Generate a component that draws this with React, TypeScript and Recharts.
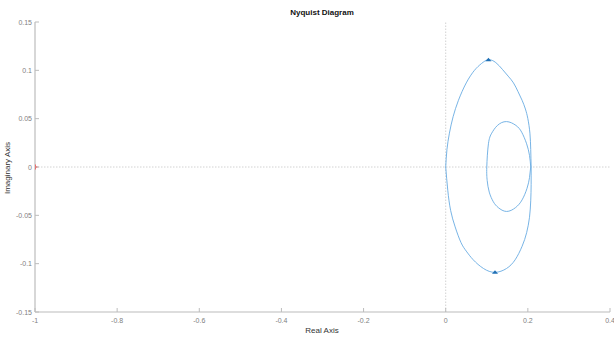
import React from 'react';
import { ComposedChart, Line, Scatter, XAxis, YAxis, ReferenceLine } from 'recharts';

// Upper half of the outer loop (real, imaginary): origin -> top -> right crossing
const upperRe = [0.0, 0.003, 0.009, 0.018, 0.031, 0.05, 0.07, 0.087, 0.104, 0.122, 0.138, 0.152, 0.165, 0.176, 0.186, 0.194, 0.2, 0.205, 0.207, 0.208];
const upperIm = [0.0, 0.018, 0.035, 0.052, 0.069, 0.087, 0.1, 0.107, 0.111, 0.108, 0.101, 0.094, 0.087, 0.078, 0.069, 0.06, 0.05, 0.035, 0.018, 0.0];

// Lower half of the outer loop: right crossing -> bottom -> origin
const lowerRe = [0.208, 0.208, 0.207, 0.204, 0.197, 0.186, 0.169, 0.148, 0.12, 0.092, 0.067, 0.05, 0.037, 0.023, 0.012, 0.005, 0.0];
const lowerIm = [0.0, -0.018, -0.035, -0.052, -0.068, -0.082, -0.096, -0.105, -0.109, -0.105, -0.096, -0.087, -0.078, -0.062, -0.045, -0.024, 0.0];

// Inner loop, traced from its right-hand crossing of the real axis
const innerRe = [0.207, 0.204, 0.197, 0.185, 0.171, 0.148, 0.126, 0.112, 0.104, 0.1, 0.101, 0.106, 0.116, 0.128, 0.148, 0.17, 0.186, 0.198, 0.204, 0.207];
const innerIm = [0.0, 0.012, 0.024, 0.036, 0.043, 0.047, 0.043, 0.035, 0.024, 0.0, -0.014, -0.026, -0.036, -0.042, -0.046, -0.042, -0.034, -0.022, -0.011, 0.0];

// Direction arrows on the curve
const arrowRe = [0.104, 0.12];
const arrowIm = [0.111, -0.109];

// Critical point -1 + 0j
const criticalRe = [-1];
const criticalIm = [0];

const xTicks = [-1, -0.8, -0.6, -0.4, -0.2, 0, 0.2, 0.4];
const yTicks = [-0.15, -0.1, -0.05, 0, 0.05, 0.1, 0.15];

const toPoints = (re: number[], im: number[]) => re.map((r, i) => ({ re: r, im: im[i] }));

const upper = toPoints(upperRe, upperIm);
const lower = toPoints(lowerRe, lowerIm);
const inner = toPoints(innerRe, innerIm);
const arrows = toPoints(arrowRe, arrowIm);
const critical = toPoints(criticalRe, criticalIm);

const FONT = '"Liberation Sans", Arial, Helvetica, sans-serif';
const AXIS = '#bcbcbc';
const TICK_TEXT = '#808080';
const CURVE = '#69ace2';
const TICK_LEN = 4;
const X_MARGIN = 5;
const Y_MARGIN = 3;

const BottomTick = (props: any) => {
  const { x, y, payload } = props;
  const axisY = y - X_MARGIN;
  return (
    <g>
      <line x1={x} x2={x} y1={axisY} y2={axisY - TICK_LEN} stroke={AXIS} strokeWidth={1} />
      <text x={x} y={y} dy={6} textAnchor="middle" fontSize={7} fill={TICK_TEXT} fontFamily={FONT}>
        {String(payload.value)}
      </text>
    </g>
  );
};

const TopTick = (props: any) => {
  const { x, y } = props;
  return <line x1={x} x2={x} y1={y} y2={y + TICK_LEN} stroke={AXIS} strokeWidth={1} />;
};

const LeftTick = (props: any) => {
  const { x, y, payload } = props;
  const axisX = x + Y_MARGIN;
  return (
    <g>
      <line x1={axisX} x2={axisX + TICK_LEN} y1={y} y2={y} stroke={AXIS} strokeWidth={1} />
      <text x={x} y={y} dy={2.5} textAnchor="end" fontSize={7} fill={TICK_TEXT} fontFamily={FONT}>
        {String(payload.value)}
      </text>
    </g>
  );
};

const RightTick = (props: any) => {
  const { x, y } = props;
  return <line x1={x} x2={x - TICK_LEN} y1={y} y2={y} stroke={AXIS} strokeWidth={1} />;
};

const ArrowShape = (props: any) => {
  const { cx, cy } = props;
  if (cx == null || cy == null) return <g />;
  return <polygon points={`${cx - 3},${cy + 1.5} ${cx + 3},${cy + 1.5} ${cx},${cy - 2}`} fill="#1f6fb5" />;
};

const PlusShape = (props: any) => {
  const { cx, cy } = props;
  if (cx == null || cy == null) return <g />;
  return (
    <g>
      <line x1={cx - 2.5} x2={cx + 2.5} y1={cy} y2={cy} stroke="#ff2020" strokeWidth={1.2} />
      <line x1={cx} x2={cx} y1={cy - 2.5} y2={cy + 2.5} stroke="#ff2020" strokeWidth={1.2} />
    </g>
  );
};

const curveLine = (data: { re: number; im: number }[], key: string) => (
  <Line
    key={key}
    data={data}
    dataKey="im"
    type="natural"
    stroke={CURVE}
    strokeWidth={0.9}
    dot={false}
    activeDot={false}
    isAnimationActive={false}
  />
);

export default function App() {
  return (
    <div style={{ position: 'absolute', left: 0, top: 0, width: 614, height: 338, background: '#fff', fontFamily: FONT }}>
      <ComposedChart width={614} height={338} margin={{ top: 22, right: 4, bottom: 0, left: 0 }}>
        <XAxis
          dataKey="re"
          type="number"
          domain={[-1, 0.4]}
          ticks={xTicks}
          interval={0}
          height={26}
          tickSize={0}
          tickMargin={X_MARGIN}
          tickLine={false}
          axisLine={{ stroke: AXIS, strokeWidth: 1.2 }}
          tick={BottomTick}
          allowDataOverflow
        />
        <XAxis
          xAxisId="top"
          orientation="top"
          dataKey="re"
          type="number"
          domain={[-1, 0.4]}
          ticks={xTicks}
          interval={0}
          height={0}
          tickSize={0}
          tickMargin={0}
          tickLine={false}
          axisLine={{ stroke: AXIS, strokeWidth: 1.2 }}
          tick={TopTick}
          allowDataOverflow
        />
        <YAxis
          dataKey="im"
          type="number"
          domain={[-0.15, 0.15]}
          ticks={yTicks}
          interval={0}
          width={35}
          tickSize={0}
          tickMargin={Y_MARGIN}
          tickLine={false}
          axisLine={{ stroke: AXIS, strokeWidth: 1.2 }}
          tick={LeftTick}
          allowDataOverflow
        />
        <YAxis
          yAxisId="right"
          orientation="right"
          dataKey="im"
          type="number"
          domain={[-0.15, 0.15]}
          ticks={yTicks}
          interval={0}
          width={0}
          tickSize={0}
          tickMargin={0}
          tickLine={false}
          axisLine={{ stroke: AXIS, strokeWidth: 1.2 }}
          tick={RightTick}
          allowDataOverflow
        />
        <ReferenceLine y={0} stroke="#d2d2d2" strokeWidth={1} strokeDasharray="1.5 1.5" />
        <ReferenceLine x={0} stroke="#d2d2d2" strokeWidth={1} strokeDasharray="1.5 1.5" />
        {curveLine(upper, 'upper')}
        {curveLine(lower, 'lower')}
        {curveLine(inner, 'inner')}
        <Scatter data={arrows} dataKey="im" shape={ArrowShape} isAnimationActive={false} />
        <Scatter data={critical} dataKey="im" shape={PlusShape} isAnimationActive={false} />
      </ComposedChart>
      <div
        style={{
          position: 'absolute', left: 322, top: 8, transform: 'translateX(-50%)',
          fontSize: 8, lineHeight: '9px', fontWeight: 'bold', color: '#111', whiteSpace: 'nowrap',
        }}
      >
        Nyquist Diagram
      </div>
      <div
        style={{
          position: 'absolute', left: 322, top: 326, transform: 'translateX(-50%)',
          fontSize: 8, lineHeight: '9px', color: '#333', whiteSpace: 'nowrap',
        }}
      >
        Real Axis
      </div>
      <div
        style={{
          position: 'absolute', left: 7, top: 168, transform: 'translate(-50%, -50%) rotate(-90deg)',
          fontSize: 8, lineHeight: '9px', color: '#333', whiteSpace: 'nowrap',
        }}
      >
        Imaginary Axis
      </div>
    </div>
  );
}
